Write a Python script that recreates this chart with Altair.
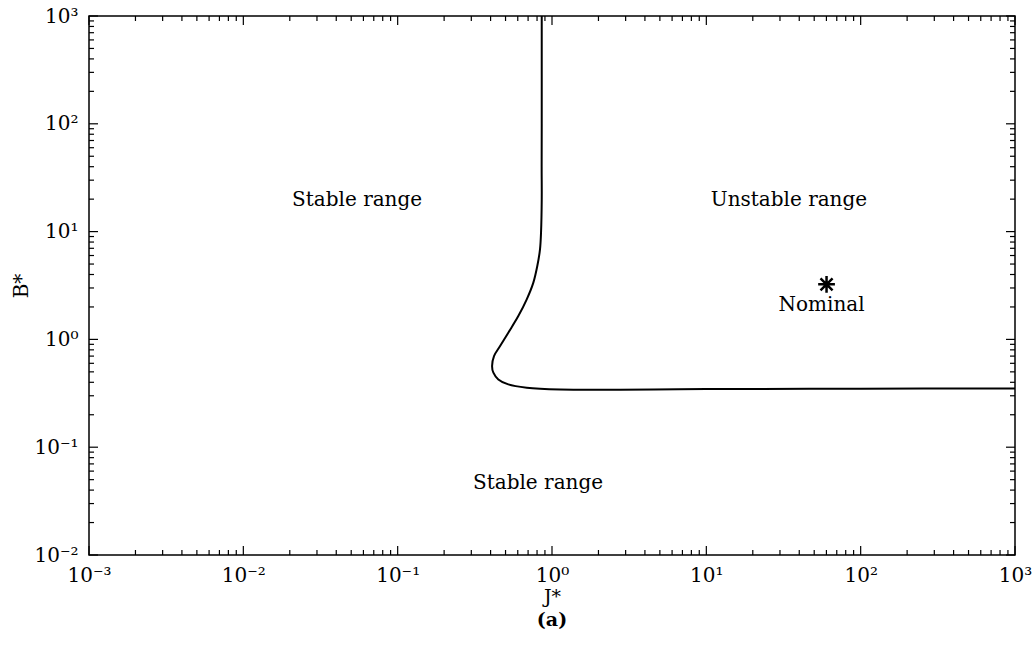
import altair as alt
import pandas as pd

W, H = 926, 539
FONT = "DejaVu Serif"

# Stability boundary (J*, B*)
curve_j = [0.858, 0.858, 0.857, 0.858, 0.849, 0.836, 0.803, 0.757, 0.686, 0.605, 0.521, 0.461, 0.421, 0.409,
           0.417, 0.449, 0.521, 0.686, 1.127, 10.0, 100.0, 1000.0]
curve_b = [1000.0, 100.0, 40.0, 19.9, 9.77, 6.84, 4.79, 3.36, 2.35, 1.645, 1.154, 0.867, 0.700, 0.565,
           0.491, 0.4256, 0.3824, 0.3565, 0.3436, 0.346, 0.349, 0.350]

# Nominal operating point
nominal_j = [60.1]
nominal_b = [3.24]
nominal_label = ["Nominal"]

# Region labels
region_text = ["Stable range", "Unstable range", "Stable range"]
region_j = [0.0546, 34.3, 0.812]
region_b = [19.5, 19.5, 0.0461]

# Axis ticks
x_major = [1e-3, 1e-2, 1e-1, 1.0, 10.0, 100.0, 1000.0]
x_sup = ["⁻³", "⁻²", "⁻¹", "⁰", "¹", "²", "³"]
y_major = [1e-2, 1e-1, 1.0, 10.0, 100.0, 1000.0]
y_sup = ["⁻²", "⁻¹", "⁰", "¹", "²", "³"]
x_minor = [m * 10.0 ** k for k in range(-3, 3) for m in range(2, 10)]
y_minor = [m * 10.0 ** k for k in range(-2, 3) for m in range(2, 10)]

xs = alt.Scale(type="log", domain=[1e-3, 1e3], nice=False)
ys = alt.Scale(type="log", domain=[1e-2, 1e3], nice=False)

x_expr = "'10' + " + str(x_sup) + "[round(log(datum.value)/LN10) + 3]"
y_expr = "'10' + " + str(y_sup) + "[round(log(datum.value)/LN10) + 2]"

x_axis = alt.Axis(values=x_major, labelExpr=x_expr, ticks=False, domain=False, grid=False,
                  labelFont=FONT, labelFontSize=20, labelColor="black", labelPadding=10,
                  labelFlush=False, labelOverlap=False,
                  title="J*", titleFont=FONT, titleFontSize=19, titleFontWeight="normal",
                  titleColor="black", titlePadding=2)
y_axis = alt.Axis(values=y_major, labelExpr=y_expr, ticks=False, domain=False, grid=False,
                  labelFont=FONT, labelFontSize=20, labelColor="black", labelPadding=11,
                  labelFlush=False, labelOverlap=False,
                  title="B*", titleFont=FONT, titleFontSize=20, titleFontWeight="normal",
                  titleColor="black", titlePadding=2)

X = lambda f="J": alt.X(f + ":Q", scale=xs, axis=x_axis)
Y = lambda f="B": alt.Y(f + ":Q", scale=ys, axis=y_axis)

curve_df = pd.DataFrame({"J": curve_j, "B": curve_b, "i": list(range(len(curve_j)))})
curve = alt.Chart(curve_df).mark_line(color="black", strokeWidth=2, interpolate="catmull-rom", clip=True).encode(
    x=X(), y=Y(), order="i:Q")

nom_df = pd.DataFrame({"J": nominal_j, "B": nominal_b, "t": nominal_label})
star_path = "M0,-1L0,1M-1,0L1,0M-0.72,-0.72L0.72,0.72M-0.72,0.72L0.72,-0.72"
star = alt.Chart(nom_df).mark_point(shape=star_path, size=280, filled=False, color="black",
                                    opacity=1, strokeWidth=2.5).encode(x=X(), y=Y())
nom_text = alt.Chart(nom_df).mark_text(font=FONT, fontSize=20, color="black", dy=21, dx=-5).encode(
    x=X(), y=Y(), text="t:N")

reg_df = pd.DataFrame({"J": region_j, "B": region_b, "t": region_text})
regions = alt.Chart(reg_df).mark_text(font=FONT, fontSize=20, color="black").encode(
    x=X(), y=Y(), text="t:N")

MAJ, MIN = 9, 5


def xticks(vals, L, side):
    base = alt.Chart(pd.DataFrame({"J": vals})).mark_rule(color="black", strokeWidth=1.2)
    if side == "bottom":
        return base.encode(x=X(), y=alt.value(H), y2=alt.value(H - L))
    return base.encode(x=X(), y=alt.value(0), y2=alt.value(L))


def yticks(vals, L, side):
    base = alt.Chart(pd.DataFrame({"B": vals})).mark_rule(color="black", strokeWidth=1.2)
    if side == "left":
        return base.encode(y=Y(), x=alt.value(0), x2=alt.value(L))
    return base.encode(y=Y(), x=alt.value(W), x2=alt.value(W - L))


tick_layers = [
    xticks(x_major, MAJ, "bottom"), xticks(x_minor, MIN, "bottom"),
    xticks(x_major, MAJ, "top"), xticks(x_minor, MIN, "top"),
    yticks(y_major, MAJ, "left"), yticks(y_minor, MIN, "left"),
    yticks(y_major, MAJ, "right"), yticks(y_minor, MIN, "right"),
]

chart = alt.layer(curve, *tick_layers, star, nom_text, regions).properties(
    width=W, height=H,
    title=alt.TitleParams("(a)", orient="bottom", font=FONT, fontSize=19, fontWeight="bold",
                          color="black", offset=5, anchor="middle"),
    autosize=alt.AutoSizeParams(type="none"),
    padding={"left": 89, "top": 16, "right": 21, "bottom": 98},
    background="white",
).configure_view(stroke="black", strokeWidth=1.5)

chart.save("out.html", embed_options={"renderer": "svg", "actions": False})
